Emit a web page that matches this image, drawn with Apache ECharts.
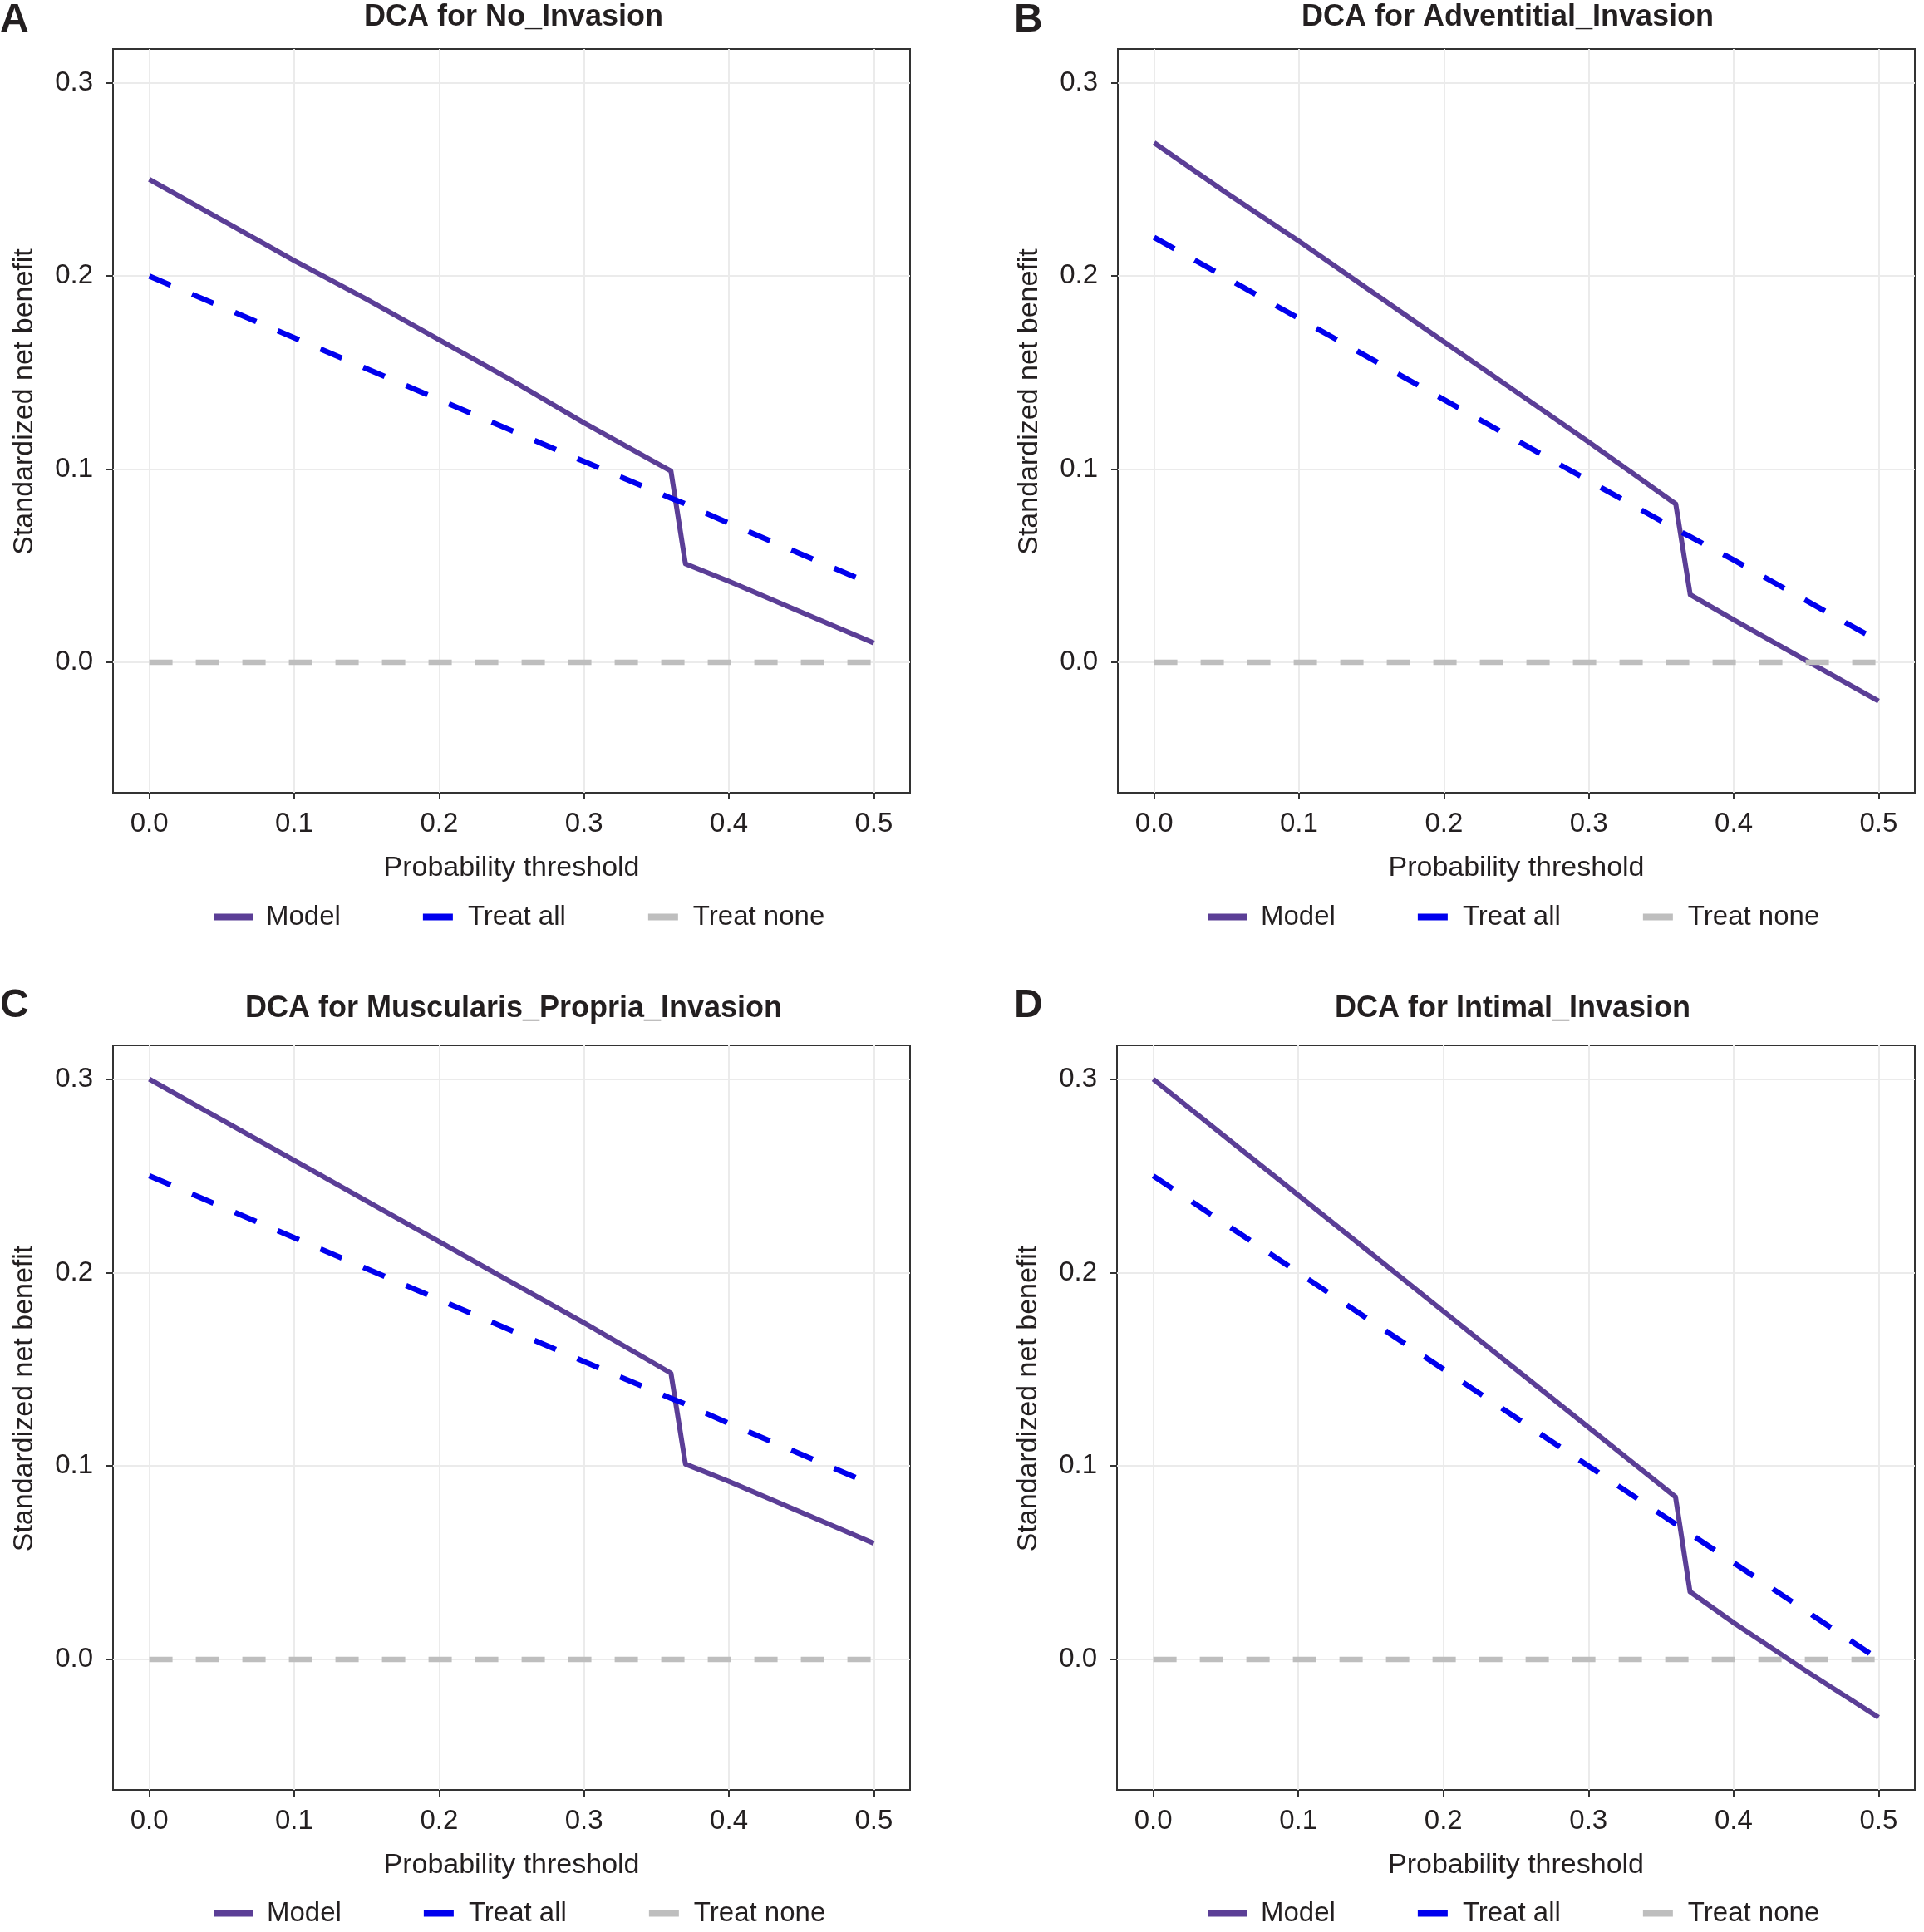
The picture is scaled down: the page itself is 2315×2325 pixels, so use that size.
<!DOCTYPE html>
<html>
<head>
<meta charset="utf-8">
<script src="https://cdn.jsdelivr.net/npm/echarts@6.0.0/dist/echarts.min.js"></script>
<style>
  html, body { margin: 0; padding: 0; background: #ffffff; }
  #chart { width: 2315px; height: 2325px; }
</style>
</head>
<body>
<div id="chart"></div>
<script>
// ---- Data ----
const thresholds = [0, 0.05, 0.1, 0.15, 0.2, 0.25, 0.3, 0.36, 0.37, 0.4, 0.45, 0.5];

const modelA    = [0.250, 0.229, 0.208, 0.188, 0.167, 0.146, 0.124, 0.099, 0.051, 0.042, 0.026, 0.010];
const treatAllA = [0.200, 0.184, 0.168, 0.152, 0.136, 0.120, 0.104, 0.085, 0.082, 0.072, 0.056, 0.040];

const modelB    = [0.269, 0.243, 0.218, 0.192, 0.166, 0.140, 0.114, 0.082, 0.035, 0.022, 0.001, -0.020];
const treatAllB = [0.220, 0.199, 0.178, 0.157, 0.136, 0.115, 0.094, 0.069, 0.065, 0.053, 0.032, 0.011];

const modelC    = [0.300, 0.279, 0.258, 0.237, 0.216, 0.195, 0.174, 0.148, 0.101, 0.092, 0.076, 0.060];
const treatAllC = [0.250, 0.234, 0.218, 0.202, 0.186, 0.170, 0.154, 0.135, 0.132, 0.122, 0.106, 0.090];

const modelD    = [0.300, 0.270, 0.240, 0.210, 0.180, 0.150, 0.120, 0.084, 0.035, 0.019, -0.006, -0.030];
const treatAllD = [0.250, 0.225, 0.200, 0.175, 0.150, 0.125, 0.100, 0.070, 0.065, 0.050, 0.025, 0.000];

const treatNone = [0, 0, 0, 0, 0, 0, 0, 0, 0, 0, 0, 0];

const xTicks = [0, 0.1, 0.2, 0.3, 0.4, 0.5];
const yTicks = [0, 0.1, 0.2, 0.3];

const panelTitles = ['DCA for No_Invasion', 'DCA for Adventitial_Invasion',
                     'DCA for Muscularis_Propria_Invasion', 'DCA for Intimal_Invasion'];
const panelLetters = ['A', 'B', 'C', 'D'];
const seriesNames = ['Model', 'Treat all', 'Treat none'];
const xTitle = 'Probability threshold';
const yTitle = 'Standardized net benefit';

// ---- Styling / layout ----
const FONT = 'Liberation Sans';
const TXT = '#231f20';
const COL_MODEL = '#5b3e96';
const COL_ALL = '#0000ee';
const COL_NONE = '#bebebe';

const panels = [
  { model: modelA, all: treatAllA, grid: { left: 136, top: 59, width: 959, height: 895 },
    titleX: 618, titleY: 21, letterX: 0, letterY: 25, legendLeft: 257, legendTop: 1087 },
  { model: modelB, all: treatAllB, grid: { left: 1345, top: 59, width: 959, height: 895 },
    titleX: 1814, titleY: 21, letterX: 1220, letterY: 25, legendLeft: 1454, legendTop: 1087 },
  { model: modelC, all: treatAllC, grid: { left: 136, top: 1258, width: 959, height: 896 },
    titleX: 618, titleY: 1214, letterX: 0, letterY: 1211, legendLeft: 258, legendTop: 2286 },
  { model: modelD, all: treatAllD, grid: { left: 1344, top: 1258, width: 960, height: 896 },
    titleX: 1820, titleY: 1214, letterX: 1220, letterY: 1211, legendLeft: 1454, legendTop: 2286 }
];

const toPairs = (xs, ys) => xs.map((x, i) => [x, ys[i]]);

const grids = [], xAxes = [], yAxes = [], series = [], legends = [], graphics = [];

const iconFull = 'path://M0 0H47V8H0ZM57.99 7.99H58V8H57.99Z';
const iconDash = 'path://M0 0H0.01V0.01H0ZM9 0H45V8H9ZM57.99 7.99H58V8H57.99Z';

panels.forEach((p, i) => {
  grids.push(Object.assign({ show: true, borderColor: '#333333', borderWidth: 2,
                             backgroundColor: '#ffffff', containLabel: false }, p.grid));
  xAxes.push({
    type: 'value', gridIndex: i, min: -0.025, max: 0.525, position: 'bottom',
    axisLine: { show: false, onZero: false },
    axisTick: { show: true, length: 8, customValues: xTicks, lineStyle: { color: '#333333', width: 2 } },
    axisLabel: { customValues: xTicks, formatter: v => Number(v).toFixed(1), margin: 21,
                 fontSize: 33, color: TXT, fontFamily: FONT },
    splitLine: { show: true, lineStyle: { color: '#ebebeb', width: 2 } },
    name: xTitle, nameLocation: 'middle', nameGap: 74,
    nameTextStyle: { fontSize: 34, color: TXT, fontFamily: FONT }
  });
  yAxes.push({
    type: 'value', gridIndex: i, min: -0.0675, max: 0.3175, position: 'left',
    axisLine: { show: false, onZero: false },
    axisTick: { show: true, length: 8, customValues: yTicks, lineStyle: { color: '#333333', width: 2 } },
    axisLabel: { customValues: yTicks, formatter: v => Number(v).toFixed(1), margin: 24,
                 fontSize: 33, color: TXT, fontFamily: FONT },
    splitLine: { show: true, lineStyle: { color: '#ebebeb', width: 2 } },
    name: yTitle, nameLocation: 'middle', nameGap: 89,
    nameTextStyle: { fontSize: 34, color: TXT, fontFamily: FONT, padding: [0, 0, 0, 46] }
  });
  series.push({
    name: seriesNames[0], type: 'line', xAxisIndex: i, yAxisIndex: i,
    data: toPairs(thresholds, p.model), symbol: 'none', color: COL_MODEL,
    lineStyle: { color: COL_MODEL, width: 6, cap: 'butt', join: 'round' }, z: 3
  });
  series.push({
    name: seriesNames[1], type: 'line', xAxisIndex: i, yAxisIndex: i,
    data: toPairs(thresholds, p.all), symbol: 'none', color: COL_ALL,
    lineStyle: { color: COL_ALL, width: 6.5, type: [28, 28], cap: 'butt' }, z: 4
  });
  series.push({
    name: seriesNames[2], type: 'line', xAxisIndex: i, yAxisIndex: i,
    data: toPairs(thresholds, treatNone), symbol: 'none', color: COL_NONE,
    lineStyle: { color: COL_NONE, width: 6.5, type: [28, 28], cap: 'butt' }, z: 5
  });
  legends.push({
    left: p.legendLeft, top: p.legendTop, orient: 'horizontal', padding: 0,
    itemWidth: 58, itemHeight: 8, itemGap: 90, selectedMode: false,
    itemStyle: { borderWidth: 0 },
    textStyle: { fontSize: 33, color: TXT, fontFamily: FONT },
    data: [
      { name: seriesNames[0], icon: iconFull },
      { name: seriesNames[1], icon: iconDash },
      { name: seriesNames[2], icon: iconDash }
    ]
  });
  graphics.push({
    type: 'text', x: p.titleX, y: p.titleY,
    style: { text: panelTitles[i], fill: TXT, font: 'bold 36px "' + FONT + '"',
             textAlign: 'center', textVerticalAlign: 'middle', align: 'center', verticalAlign: 'middle' }
  });
  graphics.push({
    type: 'text', x: p.letterX, y: p.letterY,
    style: { text: panelLetters[i], fill: TXT, font: 'bold 48px "' + FONT + '"',
             textAlign: 'left', textVerticalAlign: 'middle', align: 'left', verticalAlign: 'middle' }
  });
});

const chart = echarts.init(document.getElementById('chart'), null, { renderer: 'canvas' });
chart.setOption({
  backgroundColor: '#ffffff',
  animation: false,
  grid: grids,
  xAxis: xAxes,
  yAxis: yAxes,
  series: series,
  legend: legends,
  graphic: graphics
});
</script>
</body>
</html>
